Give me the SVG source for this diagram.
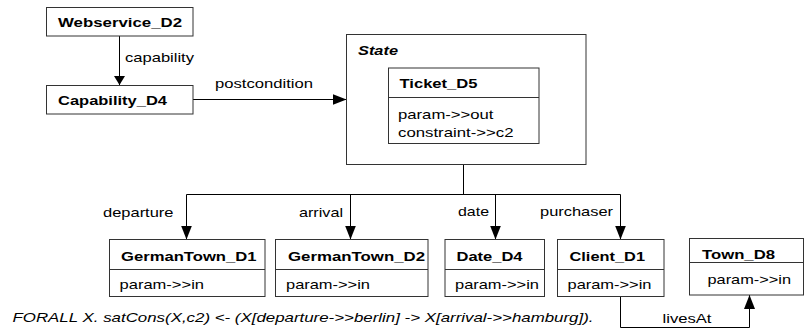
<svg xmlns="http://www.w3.org/2000/svg" width="806" height="333" viewBox="0 0 806 333">
  <style>
    .box { fill: #ffffff; stroke: #333333; stroke-width: 1; }
    .div { stroke: #333333; stroke-width: 1; }
    .edge { fill: none; stroke: #000000; stroke-width: 1; }
    text { font-family: "Liberation Sans", Arial, sans-serif; fill: #000000; }
    .title { font-size: 13.5px; font-weight: bold; }
    .attr { font-size: 13px; }
    .lbl { font-size: 13px; }
    .state { font-size: 13.5px; font-weight: bold; font-style: italic; }
    .rule { font-size: 13px; font-style: italic; }
  </style>
  <defs>
    <marker id="tipLong" markerUnits="userSpaceOnUse" markerWidth="15" markerHeight="12" refX="14" refY="5.5" orient="auto">
      <path d="M0,0 L14,5.5 L0,11 Z" fill="#000000"/>
    </marker>
    <marker id="tipShort" markerUnits="userSpaceOnUse" markerWidth="10" markerHeight="12" refX="9" refY="5.5" orient="auto">
      <path d="M0,0 L9,5.5 L0,11 Z" fill="#000000"/>
    </marker>
  </defs>

  <rect width="806" height="333" fill="#ffffff"/>

  <!-- connectors -->
  <g id="connectors">
    <line class="edge" x1="119.5" y1="36" x2="119.5" y2="85" marker-end="url(#tipShort)"/>
    <text class="lbl" x="125" y="62" textLength="69" lengthAdjust="spacingAndGlyphs">capability</text>

    <line class="edge" x1="193" y1="99.5" x2="346.5" y2="99.5" marker-end="url(#tipLong)"/>
    <text class="lbl" x="215" y="88" textLength="98" lengthAdjust="spacingAndGlyphs">postcondition</text>

    <path class="edge" d="M463.5,143.5 V194.5"/>
    <path class="edge" d="M186.5,194.5 H620.5"/>
    <line class="edge" x1="186.5" y1="194.5" x2="186.5" y2="239.5" marker-end="url(#tipLong)"/>
    <line class="edge" x1="350.5" y1="194.5" x2="350.5" y2="239.5" marker-end="url(#tipLong)"/>
    <line class="edge" x1="495.5" y1="194.5" x2="495.5" y2="239.5" marker-end="url(#tipLong)"/>
    <line class="edge" x1="620.5" y1="194.5" x2="620.5" y2="239.5" marker-end="url(#tipLong)"/>
    <text class="lbl" x="103" y="216.5" textLength="70.5" lengthAdjust="spacingAndGlyphs">departure</text>
    <text class="lbl" x="299" y="216.5" textLength="44" lengthAdjust="spacingAndGlyphs">arrival</text>
    <text class="lbl" x="458" y="215.5" textLength="31" lengthAdjust="spacingAndGlyphs">date</text>
    <text class="lbl" x="540" y="215.5" textLength="73" lengthAdjust="spacingAndGlyphs">purchaser</text>

    <path class="edge" d="M620.5,296.5 V327.5 H749.5 V295" marker-end="url(#tipLong)"/>
    <text class="lbl" x="662.5" y="323" textLength="49" lengthAdjust="spacingAndGlyphs">livesAt</text>
  </g>

  <!-- nodes -->
  <g id="Webservice_D2">
    <rect class="box" x="46.5" y="7.5" width="146.5" height="28.5"/>
    <text class="title" x="58" y="27" textLength="124" lengthAdjust="spacingAndGlyphs">Webservice_D2</text>
  </g>

  <g id="Capability_D4">
    <rect class="box" x="46.5" y="85.5" width="146.5" height="28.5"/>
    <text class="title" x="58" y="105" textLength="109" lengthAdjust="spacingAndGlyphs">Capability_D4</text>
  </g>

  <g id="State">
    <rect class="box" x="346.5" y="34.5" width="239.5" height="130"/>
    <text class="state" x="358" y="55" textLength="40" lengthAdjust="spacingAndGlyphs">State</text>
  </g>

  <g id="Ticket_D5">
    <rect class="box" x="388.5" y="68" width="150.5" height="75.5"/>
    <line class="div" x1="388.5" y1="97.5" x2="539" y2="97.5"/>
    <text class="title" x="399.5" y="88" textLength="78" lengthAdjust="spacingAndGlyphs">Ticket_D5</text>
    <text class="attr" x="398" y="118.5" textLength="95.5" lengthAdjust="spacingAndGlyphs">param-&gt;&gt;out</text>
    <text class="attr" x="398" y="136.5" textLength="115.5" lengthAdjust="spacingAndGlyphs">constraint-&gt;&gt;c2</text>
  </g>

  <g id="GermanTown_D1">
    <rect class="box" x="109.5" y="239.5" width="155.5" height="57"/>
    <line class="div" x1="109.5" y1="269.5" x2="265" y2="269.5"/>
    <text class="title" x="121" y="260.5" textLength="135.5" lengthAdjust="spacingAndGlyphs">GermanTown_D1</text>
    <text class="attr" x="119.5" y="289" textLength="84.5" lengthAdjust="spacingAndGlyphs">param-&gt;&gt;in</text>
  </g>

  <g id="GermanTown_D2">
    <rect class="box" x="275.5" y="239.5" width="152.5" height="57"/>
    <line class="div" x1="275.5" y1="269.5" x2="428" y2="269.5"/>
    <text class="title" x="288" y="260.5" textLength="137" lengthAdjust="spacingAndGlyphs">GermanTown_D2</text>
    <text class="attr" x="286" y="289" textLength="84" lengthAdjust="spacingAndGlyphs">param-&gt;&gt;in</text>
  </g>

  <g id="Date_D4">
    <rect class="box" x="445" y="239.5" width="99.5" height="57"/>
    <line class="div" x1="445" y1="269.5" x2="544.5" y2="269.5"/>
    <text class="title" x="456.5" y="260.5" textLength="66" lengthAdjust="spacingAndGlyphs">Date_D4</text>
    <text class="attr" x="455" y="289" textLength="84" lengthAdjust="spacingAndGlyphs">param-&gt;&gt;in</text>
  </g>

  <g id="Client_D1">
    <rect class="box" x="557.5" y="239.5" width="106.5" height="57"/>
    <line class="div" x1="557.5" y1="269.5" x2="664" y2="269.5"/>
    <text class="title" x="569.5" y="260.5" textLength="75.5" lengthAdjust="spacingAndGlyphs">Client_D1</text>
    <text class="attr" x="567.5" y="289" textLength="84" lengthAdjust="spacingAndGlyphs">param-&gt;&gt;in</text>
  </g>

  <g id="Town_D8">
    <rect class="box" x="689.5" y="238.5" width="114" height="56.5"/>
    <line class="div" x1="689.5" y1="262.5" x2="803.5" y2="262.5"/>
    <text class="title" x="702" y="258.5" textLength="73" lengthAdjust="spacingAndGlyphs">Town_D8</text>
    <text class="attr" x="707.5" y="284" textLength="83.5" lengthAdjust="spacingAndGlyphs">param-&gt;&gt;in</text>
  </g>

  <!-- rule below the diagram -->
  <text class="rule" x="12.5" y="321.5" textLength="581" lengthAdjust="spacingAndGlyphs">FORALL X. satCons(X,c2) &lt;- (X[departure-&gt;&gt;berlin] -&gt; X[arrival-&gt;&gt;hamburg]).</text>
</svg>
